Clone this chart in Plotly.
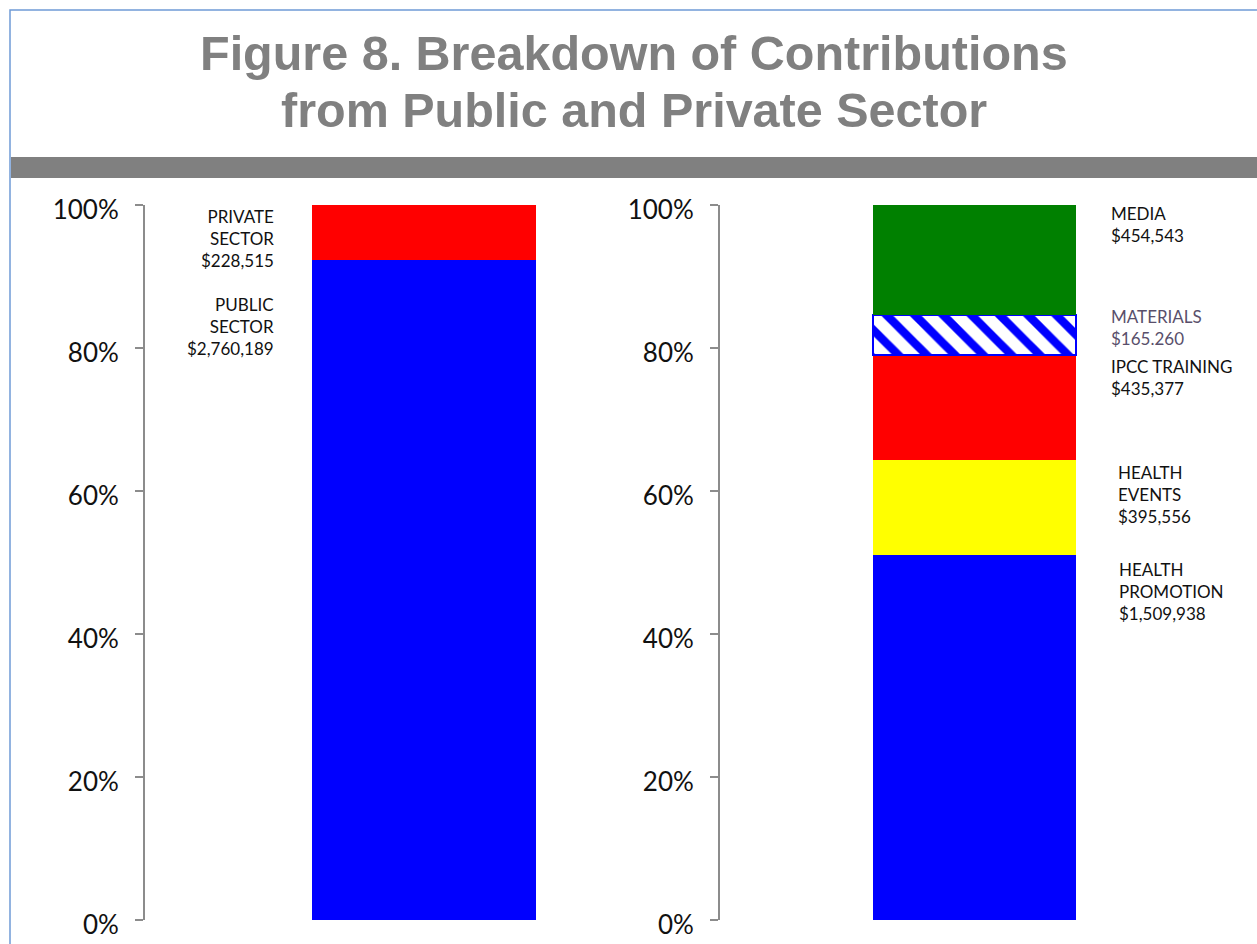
import plotly.graph_objects as go

W, H = 1257, 944

# Contributions by sector (US$)
sector_names = ["PUBLIC SECTOR", "PRIVATE SECTOR"]
sector_values = [2760189, 228515]
sector_colors = ["#0000ff", "#ff0000"]

# Breakdown by activity (US$), bottom to top
activity_names = ["HEALTH PROMOTION", "HEALTH EVENTS", "IPCC TRAINING", "MATERIALS", "MEDIA"]
activity_values = [1509938, 395556, 435377, 165260, 454543]
activity_colors = ["#0000ff", "#ffff00", "#ff0000", "white", "#008000"]

# Axis ticks
tick_values = [0, 20, 40, 60, 80, 100]
tick_labels = ["0%", "20%", "40%", "60%", "80%", "100%"]


def px(x):
    return x / W


def py(y):
    return 1 - y / H


fig = go.Figure()

for name, val, col in zip(sector_names, sector_values, sector_colors):
    fig.add_trace(go.Bar(
        x=["Sector"], y=[val], name=name, xaxis="x", yaxis="y",
        marker=dict(color=col, line=dict(width=0)),
    ))

for name, val, col in zip(activity_names, activity_values, activity_colors):
    marker = dict(color=col, line=dict(width=0))
    if name == "MATERIALS":
        marker = dict(
            color="white",
            pattern=dict(shape="\\", fgcolor="#0000ff", bgcolor="white",
                         fgopacity=1, size=20, solidity=0.42),
            line=dict(color="#0000ff", width=2),
        )
    fig.add_trace(go.Bar(
        x=["Activity"], y=[val], name=name, xaxis="x2", yaxis="y2",
        marker=marker,
    ))

axis_common = dict(
    range=[0, 100], tickvals=tick_values, ticktext=tick_labels,
    showline=True, linecolor="#8c8c8c", linewidth=2,
    ticks="outside", ticklen=8, tickwidth=2, tickcolor="#8c8c8c",
    showgrid=False, zeroline=False, automargin=False,
    tickfont=dict(family="Lato", size=26, color="#111111"),
    ticklabelstandoff=11, ticklabelshift=5,
)
ydom = [py(920), py(205)]

fig.update_layout(
    width=W, height=H,
    margin=dict(l=0, r=0, t=0, b=0),
    paper_bgcolor="white", plot_bgcolor="white",
    barmode="stack", barnorm="percent", bargap=0.6,
    showlegend=False,
    xaxis=dict(domain=[px(145), px(703)], visible=False),
    yaxis=dict(domain=ydom, anchor="x", **axis_common),
    xaxis2=dict(domain=[px(720), px(1229)], visible=False),
    yaxis2=dict(domain=ydom, anchor="x2", **axis_common),
)

# Frame and header band
fig.add_shape(type="rect", xref="paper", yref="paper",
              x0=px(10), x1=px(1270), y0=py(960), y1=py(10),
              line=dict(color="#6f9bd6", width=1.5), fillcolor="rgba(0,0,0,0)")
fig.add_shape(type="rect", xref="paper", yref="paper",
              x0=px(11), x1=1, y0=py(178), y1=py(157),
              line=dict(width=0), fillcolor="#808080")

# Title lines
title_font = dict(family="Liberation Sans", size=48.5, color="#808080")
for text, ybase in [("<b>Figure 8. Breakdown of Contributions</b>", 70),
                    ("<b>from Public and Private Sector</b>", 127)]:
    fig.add_annotation(xref="paper", yref="paper", x=px(634), y=py(ybase - 17),
                       text=text, showarrow=False, font=title_font,
                       xanchor="center", yanchor="middle")


def money(v, sep=","):
    s = f"${v:,}"
    return s.replace(",", sep)


# Segment labels, left chart
left_labels = [
    ("PRIVATE<br>SECTOR<br>" + money(sector_values[1]), 238),
    ("PUBLIC<br>SECTOR<br>" + money(sector_values[0]), 326),
]
for text, yc in left_labels:
    fig.add_annotation(xref="paper", yref="paper", x=px(276), y=py(yc),
                       text=text, showarrow=False,
                       font=dict(family="Lato", size=17, color="#111111"),
                       xanchor="right", yanchor="middle", align="right")

# Segment labels, right chart
right_labels = [
    ("MEDIA<br>" + money(activity_values[4]), 1109, 225, "#111111"),
    ("MATERIALS<br>" + money(activity_values[3], "."), 1109, 328, "#594f6b"),
    ("IPCC TRAINING<br>" + money(activity_values[2]), 1109, 377, "#111111"),
    ("HEALTH<br>EVENTS<br>" + money(activity_values[1]), 1116, 494, "#111111"),
    ("HEALTH<br>PROMOTION<br>" + money(activity_values[0]), 1117, 591, "#111111"),
]
for text, xl, yc, col in right_labels:
    fig.add_annotation(xref="paper", yref="paper", x=px(xl), y=py(yc),
                       text=text, showarrow=False,
                       font=dict(family="Lato", size=17, color=col),
                       xanchor="left", yanchor="middle", align="left")

fig.write_html("out.html")
